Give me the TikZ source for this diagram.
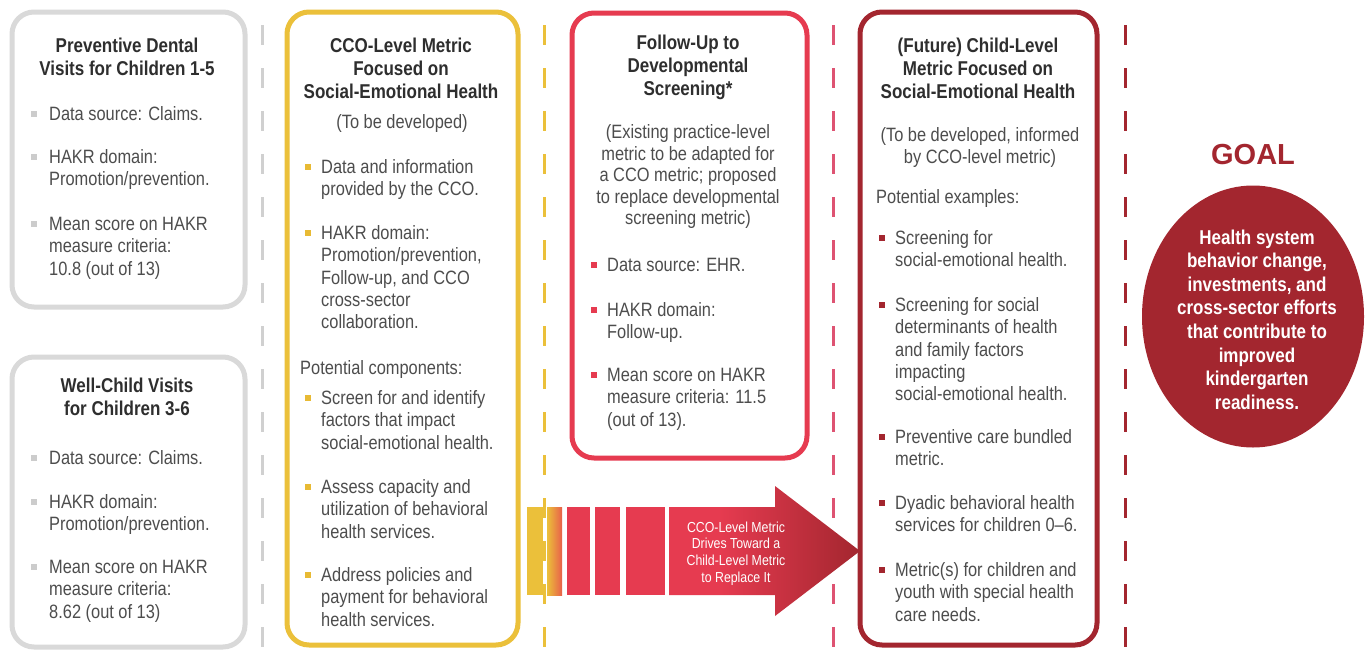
\documentclass[tikz,border=0pt]{standalone}
\usepackage{fontspec}
\setmainfont{Liberation Sans}[FakeStretch=0.85]
\newfontfamily\goalfont{Liberation Sans}
\usetikzlibrary{shapes.geometric}
\definecolor{grayB}{HTML}{D9D9D9}
\definecolor{grayBul}{HTML}{CCCCCC}
\definecolor{grayDash}{HTML}{D0D0D0}
\definecolor{yelA}{HTML}{EBC03A}
\definecolor{yelBul}{HTML}{E8BA34}
\definecolor{redA}{HTML}{E63B50}
\definecolor{redDash}{HTML}{DE5372}
\definecolor{dredA}{HTML}{A3262F}
\definecolor{orA}{HTML}{E8604A}
\definecolor{txt}{HTML}{4D4D4D}
\definecolor{ttlc}{HTML}{2E2E2E}
\pgfdeclarehorizontalshading{arrowsh}{100bp}{color(0bp)=(redA); color(25bp)=(redA); color(38bp)=(redA); color(75bp)=(dredA); color(100bp)=(dredA)}
\newcommand\mylines[1]{\begin{tabular}[t]{@{}l@{}}#1\end{tabular}}
\newcommand\mycent[1]{\begin{tabular}[t]{@{}c@{}}#1\end{tabular}}
\newcommand\bitem[6]{%
  \node[bul, fill=#5] (#1b) at (#2,#4) {};
  \node[body, anchor=base west] (#1) at (#3,#4+6.5) {\mylines{#6}};
}
\begin{document}
\begin{tikzpicture}[x=1pt,y=-1pt,
  body/.style={inner sep=0pt, font=\fontsize{19.3}{22.3}\selectfont, text=txt},
  para/.style={inner sep=0pt, font=\fontsize{19.3}{21.6}\selectfont, text=txt},
  ttl/.style={inner sep=0pt, font=\bfseries\fontsize{20}{23.3}\selectfont, text=ttlc},
  bul/.style={inner sep=0pt, minimum size=6pt, rectangle, draw=none},
  mybox/.style={rounded corners=22pt, line width=5pt, fill=white},
  sepline/.style={line width=3pt, dash pattern=on 20pt off 23pt},
  gtext/.style={inner sep=0pt, font=\bfseries\fontsize{20}{23.6}\selectfont, text=white},
  atext/.style={inner sep=0pt, font=\fontsize{14.5}{16.7}\selectfont, text=white}]
\useasboundingbox (0,0) rectangle (1366,649);
\fill[white] (0,0) rectangle (1366,649);

% separators
\draw[sepline, draw=grayDash] (262,25) -- (262,649);
\draw[sepline, draw=yelA] (544,25) -- (544,649);
\draw[sepline, draw=redDash] (833,25) -- (833,649);
\draw[sepline, draw=dredA] (1125,25) -- (1125,649);

% boxes
\draw[mybox, draw=grayB] (12,12) rectangle (245,307);
\draw[mybox, draw=grayB] (12,357) rectangle (245,647);
\draw[mybox, draw=yelA] (287,12) rectangle (518,645);
\draw[mybox, draw=redA] (572,13) rectangle (807,458);
\draw[mybox, draw=dredA] (860,12) rectangle (1097,645);

% arrow stripes
\fill[yelA] (527,507) rectangle (543,595);
\shade[left color=yelA, right color=orA] (547,507) rectangle (562,595);
\fill[redA] (567,507) rectangle (590,595);
\fill[redA] (595,507) rectangle (620,595);
\fill[redA] (626,507) rectangle (665,595);
\shade[shading=arrowsh] (669,507) -- (775,507) -- (775,486) -- (860,551) -- (775,616) -- (775,595) -- (669,595) -- cycle;
\node[atext, anchor=base] (arrtxt) at (736,532) {\mycent{CCO-Level Metric\\Drives Toward a\\Child-Level Metric\\to Replace It}};

% box 1
\node[ttl, anchor=base] (t1) at (127,52) {\mycent{Preventive Dental\\Visits for Children 1-5}};
\bitem{a1}{34}{49}{114}{grayBul}{Data source: Claims.}
\bitem{a2}{34}{49}{157}{grayBul}{HAKR domain:\\Promotion/prevention.}
\bitem{a3}{34}{49}{224}{grayBul}{Mean score on HAKR\\measure criteria:\\10.8 (out of 13)}

% box 2
\node[ttl, anchor=base] (t2) at (127,392) {\mycent{Well-Child Visits\\for Children 3-6}};
\bitem{b1}{34}{49}{458}{grayBul}{Data source: Claims.}
\bitem{b2}{34}{49}{502}{grayBul}{HAKR domain:\\Promotion/prevention.}
\bitem{b3}{34}{49}{567}{grayBul}{Mean score on HAKR\\measure criteria:\\8.62 (out of 13)}

% box 3
\node[ttl, anchor=base] (t3) at (401,52) {\mycent{CCO-Level Metric\\Focused on\\Social-Emotional Health}};
\node[body, anchor=base] (p3) at (402,128.5) {(To be developed)};
\bitem{c1}{308}{321}{167}{yelBul}{Data and information\\provided by the CCO.}
\bitem{c2}{308}{321}{233}{yelBul}{HAKR domain:\\Promotion/prevention,\\Follow-up, and CCO\\cross-sector\\collaboration.}
\node[body, anchor=base west] (pc) at (300,374.5) {Potential components:};
\bitem{c3}{308}{321}{398}{yelBul}{Screen for and identify\\factors that impact\\social-emotional health.}
\bitem{c4}{308}{321}{487}{yelBul}{Assess capacity and\\utilization of behavioral\\health services.}
\bitem{c5}{308}{321}{575}{yelBul}{Address policies and\\payment for behavioral\\health services.}

% box 4
\node[ttl, anchor=base] (t4) at (688,49) {\mycent{Follow-Up to\\Developmental\\Screening*}};
\node[para, anchor=base] (p4) at (688,138.5) {\mycent{(Existing practice-level\\metric to be adapted for\\a CCO metric; proposed\\to replace developmental\\screening metric)}};
\bitem{d1}{594}{607}{265}{redA}{Data source: EHR.}
\bitem{d2}{594}{607}{310}{redA}{HAKR domain:\\Follow-up.}
\bitem{d3}{594}{607}{375}{redA}{Mean score on HAKR\\measure criteria: 11.5\\(out of 13).}

% box 5
\node[ttl, anchor=base] (t5) at (978,52) {\mycent{(Future) Child-Level\\Metric Focused on\\Social-Emotional Health}};
\node[para, anchor=base] (p5) at (980,141.5) {\mycent{(To be developed, informed\\by CCO-level metric)}};
\node[body, anchor=base west] (pe) at (876,203.5) {Potential examples:};
\bitem{e1}{882}{895}{238}{dredA}{Screening for\\social-emotional health.}
\bitem{e2}{882}{895}{305}{dredA}{Screening for social\\determinants of health\\and family factors\\impacting\\social-emotional health.}
\bitem{e3}{882}{895}{437}{dredA}{Preventive care bundled\\metric.}
\bitem{e4}{882}{895}{503}{dredA}{Dyadic behavioral health\\services for children 0--6.}
\bitem{e5}{882}{895}{570}{dredA}{Metric(s) for children and\\youth with special health\\care needs.}

% goal
\node[inner sep=0pt, font=\goalfont\bfseries\fontsize{29}{29}\selectfont, text=dredA] (goal) at (1253,155) {GOAL};
\node[ellipse, fill=dredA, draw=none, minimum width=222pt, minimum height=262pt, inner sep=0pt] (goalc) at (1253,316.5) {};
\node[gtext, anchor=base] (goalt) at (1257,244) {\mycent{Health system\\behavior change,\\investments, and\\cross-sector efforts\\that contribute to\\improved\\kindergarten\\readiness.}};
\end{tikzpicture}
\end{document}
